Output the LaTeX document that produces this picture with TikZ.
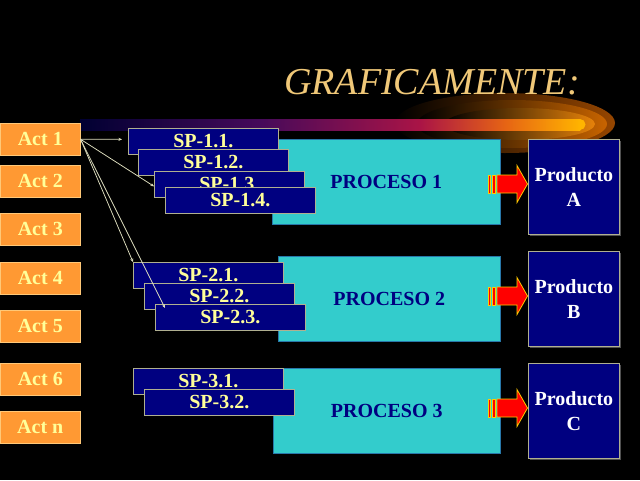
\documentclass[tikz,border=0pt]{standalone}
\usepackage{fontspec}
\setmainfont{Liberation Serif}
\usetikzlibrary{arrows.meta}
\definecolor{navyb}{HTML}{000080}
\definecolor{cyanb}{HTML}{33CCCC}
\definecolor{orangeb}{HTML}{FF9933}
\definecolor{paley}{HTML}{FFFF99}
\definecolor{titlec}{HTML}{F0C878}
\definecolor{edgec}{HTML}{B0B090}
\definecolor{linec}{HTML}{E0E0C0}
\definecolor{arrowedge}{HTML}{FFCC00}
\definecolor{actedge}{RGB}{255,200,120}
\definecolor{procedge}{RGB}{40,120,170}
\definecolor{glowa}{RGB}{150,70,0}
\definecolor{glowb}{RGB}{200,100,0}
\definecolor{glowc}{RGB}{230,130,10}
\definecolor{bara}{RGB}{0,0,50}
\definecolor{barb}{RGB}{70,10,90}
\definecolor{barc}{RGB}{170,20,70}
\definecolor{bard}{RGB}{230,100,20}
\definecolor{bare}{RGB}{255,180,0}
\definecolor{shadowc}{RGB}{80,80,80}
\tikzset{
  actbox/.style={anchor=north west, inner sep=0pt, minimum width=80pt, minimum height=32pt,
    fill=orangeb, draw=actedge, line width=0.6pt,
    text=paley, font=\fontsize{20}{24}\selectfont\bfseries},
  spbox/.style={anchor=north west, inner sep=0pt, minimum width=150pt, minimum height=26pt,
    fill=navyb, draw=edgec, line width=0.7pt,
    text=paley, font=\fontsize{20}{24}\selectfont\bfseries},
  procbox/.style={anchor=north west, inner sep=0pt, minimum width=228pt, minimum height=85pt,
    fill=cyanb, draw=procedge, line width=0.6pt,
    text=navyb, font=\fontsize{20}{24}\selectfont\bfseries},
  prodbox/.style={anchor=north west, inner sep=0pt, minimum width=91pt, minimum height=95pt,
    fill=navyb, draw=edgec, line width=0.8pt, align=center,
    text=white, font=\fontsize{20}{25}\selectfont\bfseries},
  conn/.style={draw=linec, line width=0.75pt, -{Stealth[length=3.5pt,width=3pt]}},
  redarr/.style={fill=red, draw=arrowedge, line width=0.8pt, line join=miter}
}
\newcommand{\RedArr}[1]{%
  \path[redarr] (488,#1-9) rectangle (490.5,#1+9);
  \path[redarr] (492.5,#1-9) rectangle (495,#1+9);
  \path[redarr] (497,#1-9) -- (517,#1-9) -- (517,#1-18.5) -- (527.5,#1) -- (517,#1+18.5) -- (517,#1+9) -- (497,#1+9) -- cycle;
}
\begin{document}
\begin{tikzpicture}[x=1pt,y=-1pt]
\fill[black] (0,0) rectangle (640,480);
\useasboundingbox (0,0) rectangle (640,480);
% comet glow
\shade[left color=black, right color=glowa] (505,123) ellipse [x radius=110, y radius=30];
\shade[left color=black, right color=glowb] (512,124) ellipse [x radius=95, y radius=24];
\shade[left color=black, right color=glowc] (520,124) ellipse [x radius=75, y radius=16];
% bar
\fill[bare] (580,124.5) circle [radius=5.5];
\shade[left color=bara, right color=barb] (80,119) rectangle (260.5,130);
\shade[left color=barb, right color=barc] (260,119) rectangle (420.5,130);
\shade[left color=barc, right color=bard] (420,119) rectangle (505.5,130);
\shade[left color=bard, right color=bare] (505,119) rectangle (580.3,130);
% title
\node[anchor=base, text=titlec, font=\fontsize{38}{40}\selectfont\itshape, inner sep=0pt] (title) at (432,94) {GRAFICAMENTE:};
% activities
\node[actbox] (act1) at (0,123) {Act 1};
\node[actbox] (act2) at (0,165) {Act 2};
\node[actbox] (act3) at (0,213) {Act 3};
\node[actbox] (act4) at (0,262) {Act 4};
\node[actbox] (act5) at (0,310) {Act 5};
\node[actbox] (act6) at (0,363) {Act 6};
\node[actbox] (actn) at (0,411) {Act n};
% processes
\node[procbox] (p1) at (272,139) {PROCESO 1};
\node[procbox, minimum width=222pt] (p2) at (278,256) {PROCESO 2};
\node[procbox, minimum width=227pt] (p3) at (273,368) {PROCESO 3};
% subprocesses
\node[spbox] (sp11) at (128,128) {SP-1.1.};
\node[spbox] (sp12) at (138,149) {SP-1.2.};
\node[spbox] (sp13) at (154,171) {SP-1.3.};
\node[spbox] (sp14) at (165,187) {SP-1.4.};
\node[spbox] (sp21) at (133,262) {SP-2.1.};
\node[spbox] (sp22) at (144,283) {SP-2.2.};
\node[spbox] (sp23) at (155,304) {SP-2.3.};
\node[spbox] (sp31) at (133,368) {SP-3.1.};
\node[spbox] (sp32) at (144,389) {SP-3.2.};
% products
\fill[shadowc] (530,141) rectangle (621,236);
\fill[shadowc] (530,253) rectangle (621,348);
\fill[shadowc] (530,365) rectangle (621,460);
\node[prodbox] (pa) at (528,139) {Producto\\A};
\node[prodbox] (pb) at (528,251) {Producto\\B};
\node[prodbox] (pc) at (528,363) {Producto\\C};
% red arrows
\RedArr{184}
\RedArr{296}
\RedArr{408}
% connectors
\draw[conn] (act1.east) -- ([xshift=-6pt,yshift=2pt]sp11.west);
\draw[conn] (act1.east) -- ([yshift=-2pt]sp13.west);
\draw[conn] (act1.east) -- (sp21.north west);
\draw[conn] (act1.east) -- ([shift={(10pt,-4pt)}]sp23.north west);
\end{tikzpicture}
\end{document}
